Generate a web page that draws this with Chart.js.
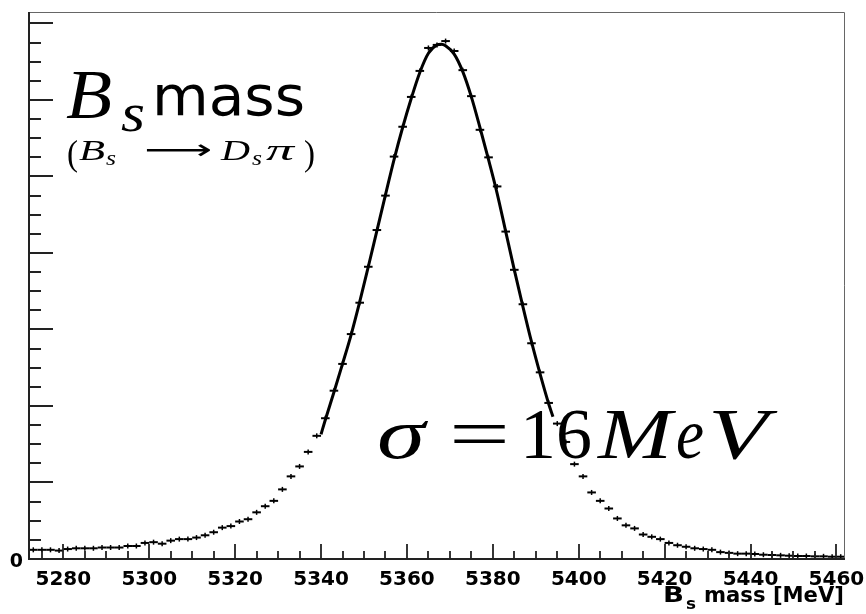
<!DOCTYPE html>
<html>
<head>
<meta charset="utf-8">
<script src="https://cdn.jsdelivr.net/npm/chart.js@4.4.1/dist/chart.umd.min.js"></script>
<style>
  html, body { margin: 0; padding: 0; background: #fff; }
  #wrap { width: 866px; height: 614px; }
</style>
</head>
<body>
<div id="wrap"><canvas id="c" width="866" height="614"></canvas></div>
<script>
// Histogram binning (MeV)
const BIN_START = 5272;
const BIN_WIDTH = 2;

// Entries per 2 MeV bin, 5272 .. 5462
const counts = [
  12, 12, 12, 11, 13, 14, 14, 14, 15, 15, 15, 17, 17, 21, 22, 20, 24, 26, 26, 28,
  31, 35, 41, 43, 49, 52, 61, 69, 76, 91, 108, 121, 140, 161,
  184, 220, 255, 294, 335, 382, 430, 475, 526, 565, 604, 638, 668, 672, 677,
  664, 639, 605, 561, 525, 487, 428, 378, 333, 282, 244, 204,
  177, 153, 124, 108, 87, 76, 66, 53, 44, 40, 32, 29,
  26, 21, 18, 16, 14, 13, 12, 9, 8, 7, 7, 6.5, 5.6, 5.2, 4.8, 4.3, 3.9, 3.9, 3.5, 3.5, 3, 3
];

// Gaussian fit curve
const fitX = [5340, 5341, 5343, 5345, 5347, 5349, 5351, 5353, 5355, 5357, 5359, 5361, 5363, 5365,
              5367, 5368, 5369, 5371, 5373, 5375, 5377, 5379, 5381, 5383, 5385, 5387, 5389, 5391, 5393, 5394];
const fitY = [163, 182, 218, 255, 293, 336, 382, 429, 476, 522, 564, 602, 636, 661,
              672, 673, 671, 660, 637, 604, 564, 522, 478, 428, 378, 330, 284, 242, 203, 186];

const xTicks = [5280, 5300, 5320, 5340, 5360, 5380, 5400, 5420, 5440, 5460];
const yTicks = [0];
const X_MIN = 5272, X_MAX = 5462;
const Y_MAX = 715;
const X_MINOR = 5, Y_MAJOR = 100, Y_MINOR = 25;

const SERIF = '"Liberation Serif", "Times New Roman", serif';
const SANS = '"DejaVu Sans", sans-serif';

const binCenters = counts.map((_, i) => BIN_START + BIN_WIDTH * (i + 0.5));
const histPoints = binCenters.map((x, i) => ({ x, y: counts[i] }));
const fitPoints = fitX.map((x, i) => ({ x, y: fitY[i] }));

function halfBinPx(ctx) {
  const sx = ctx.chart.scales.x;
  if (!sx) return 4;
  return (sx.getPixelForValue(BIN_START + BIN_WIDTH) - sx.getPixelForValue(BIN_START)) / 2;
}

// draw a piece of text stretched to a given width
function piece(ctx, text, font, x, base, w) {
  ctx.font = font;
  const m = ctx.measureText(text).width;
  ctx.save();
  ctx.translate(x, base);
  if (w) ctx.scale(w / m, 1);
  ctx.fillText(text, 0, 0);
  ctx.restore();
}

// ROOT style frame with inside ticks
const framePlugin = {
  id: 'rootFrame',
  afterDraw(chart) {
    const { ctx, chartArea: a, scales: { x, y } } = chart;
    ctx.save();
    ctx.strokeStyle = '#666';
    ctx.lineWidth = 1;
    ctx.beginPath();
    ctx.moveTo(a.left, a.top + 0.5);
    ctx.lineTo(a.right - 0.5, a.top + 0.5);
    ctx.lineTo(a.right - 0.5, a.bottom);
    ctx.stroke();

    ctx.strokeStyle = '#222';
    ctx.lineWidth = 2;
    ctx.beginPath();
    ctx.moveTo(a.left, a.top);
    ctx.lineTo(a.left, a.bottom);
    ctx.lineTo(a.right, a.bottom);
    ctx.stroke();

    ctx.lineWidth = 1.8;
    ctx.beginPath();
    for (let v = xTicks[0] - X_MINOR; v <= X_MAX; v += X_MINOR) {
      const px = Math.round(x.getPixelForValue(v));
      const len = (v - xTicks[0]) % 20 === 0 ? 15 : 8;
      ctx.moveTo(px, a.bottom);
      ctx.lineTo(px, a.bottom - len);
    }
    for (let v = Y_MINOR; v < Y_MAX; v += Y_MINOR) {
      const py = Math.round(y.getPixelForValue(v));
      const len = v % Y_MAJOR === 0 ? 24 : 12;
      ctx.moveTo(a.left, py);
      ctx.lineTo(a.left + len, py);
    }
    ctx.stroke();
    ctx.restore();
  }
};

const textPlugin = {
  id: 'labels',
  afterDraw(chart) {
    const ctx = chart.ctx;
    ctx.save();
    ctx.fillStyle = '#000';
    ctx.textBaseline = 'alphabetic';

    // B_s mass
    piece(ctx, 'B', `italic 70px ${SERIF}`, 66, 118, 46);
    piece(ctx, 's', `italic 54px ${SERIF}`, 121, 131, 24);
    piece(ctx, 'mass', `55px ${SANS}`, 152, 115, 153);

    // (B_s -> D_s pi)
    piece(ctx, '(', `35px ${SERIF}`, 67, 165, 11);
    piece(ctx, 'B', `italic 30px ${SERIF}`, 79, 160, 26);
    piece(ctx, 's', `italic 20px ${SERIF}`, 106, 165, 10);
    piece(ctx, '\u27F6', `28px ${SANS}`, 144, 159, 68);
    piece(ctx, 'D', `italic 30px ${SERIF}`, 221, 160, 29);
    piece(ctx, 's', `italic 20px ${SERIF}`, 252, 165, 10);
    piece(ctx, '\u03C0', `italic 30px ${SERIF}`, 266, 160, 28);
    piece(ctx, ')', `35px ${SERIF}`, 304, 165, 11);

    // sigma = 16 MeV
    piece(ctx, '\u03C3', `italic 72px ${SERIF}`, 377, 458, 48);
    piece(ctx, '=', `72px ${SERIF}`, 449, 458, 61);
    piece(ctx, '16', `72px ${SERIF}`, 520, 458, 72);
    piece(ctx, 'M', `italic 72px ${SERIF}`, 598, 458, 74);
    piece(ctx, 'e', `italic 72px ${SERIF}`, 676, 458, 28);
    piece(ctx, 'V', `italic 72px ${SERIF}`, 708, 458, 60);

    // axis title B_s mass [MeV]
    const f = `bold 22px ${SANS}`;
    piece(ctx, 'B', f, 663, 602, 21);
    piece(ctx, 's', `bold 15px ${SANS}`, 686, 609, 10);
    piece(ctx, 'mass [MeV]', f, 704, 602, 140);
    ctx.restore();
  }
};

new Chart(document.getElementById('c'), {
  type: 'scatter',
  data: {
    datasets: [
      {
        label: 'fit',
        data: fitPoints,
        showLine: true,
        borderColor: '#000',
        borderWidth: 3,
        cubicInterpolationMode: 'monotone',
        pointRadius: 0,
        order: 3
      },
      {
        label: 'hist',
        data: histPoints,
        pointStyle: 'line',
        pointRadius: halfBinPx,
        pointBorderWidth: 2,
        borderColor: '#000',
        backgroundColor: '#000',
        order: 1
      },
      {
        label: 'err',
        data: histPoints,
        pointStyle: 'line',
        rotation: 90,
        pointRadius: 2.5,
        pointBorderWidth: 1.5,
        borderColor: '#000',
        backgroundColor: '#000',
        order: 2
      }
    ]
  },
  options: {
    responsive: false,
    animation: false,
    devicePixelRatio: 1,
    layout: { padding: { top: 12, right: 21, left: 0, bottom: 0 } },
    plugins: { legend: { display: false }, tooltip: { enabled: false } },
    scales: {
      x: {
        type: 'linear',
        min: X_MIN,
        max: X_MAX,
        afterBuildTicks: (s) => { s.ticks = xTicks.map(v => ({ value: v })); },
        afterFit: (s) => { s.height = 55; s.paddingLeft = 0; s.paddingRight = 0; },
        grid: { display: false, drawTicks: false },
        border: { display: false },
        ticks: {
          color: '#000',
          padding: 9,
          maxRotation: 0,
          autoSkip: false,
          font: { family: 'DejaVu Sans', size: 20, weight: 'bold' },
          callback: (v) => String(v)
        }
      },
      y: {
        type: 'linear',
        min: 0,
        max: Y_MAX,
        afterBuildTicks: (s) => { s.ticks = yTicks.map(v => ({ value: v })); },
        afterFit: (s) => { s.width = 29; s.paddingTop = 0; s.paddingBottom = 0; },
        grid: { display: false, drawTicks: false },
        border: { display: false },
        ticks: {
          color: '#000',
          padding: 6,
          labelOffset: 3,
          font: { family: 'DejaVu Sans', size: 19, weight: 'bold' },
          callback: (v) => String(v)
        }
      }
    }
  },
  plugins: [framePlugin, textPlugin]
});
</script>
</body>
</html>
